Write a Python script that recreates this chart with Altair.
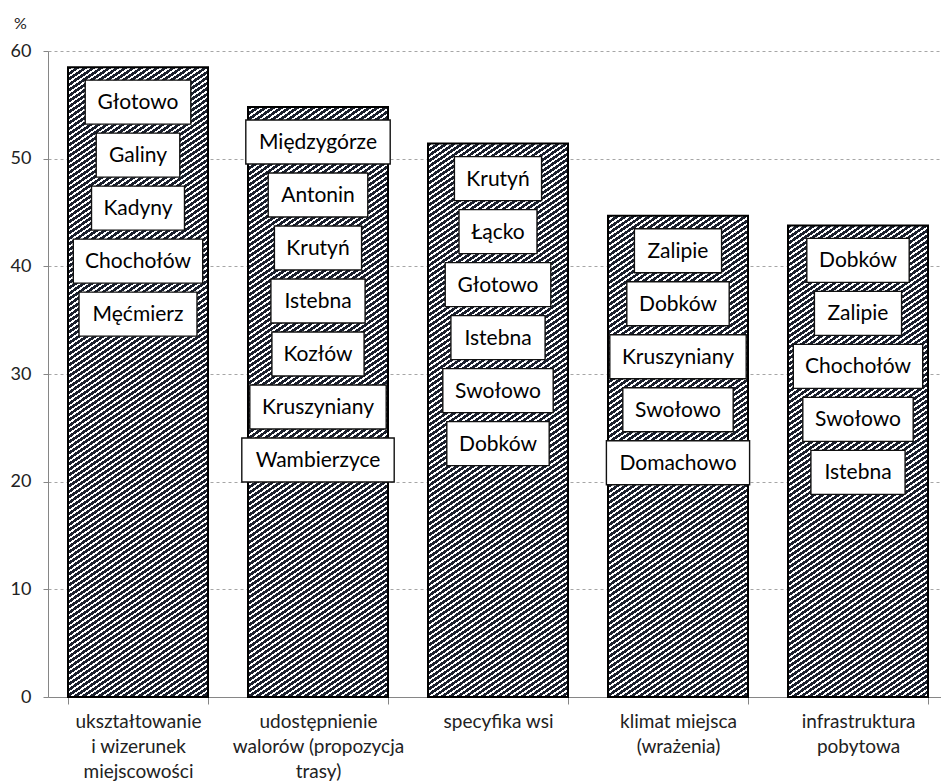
import altair as alt

# Categories (axis labels split on "|") and their shares in %
categories = [
    "ukształtowanie|i wizerunek|miejscowości",
    "udostępnienie|walorów (propozycja|trasy)",
    "specyfika wsi",
    "klimat miejsca|(wrażenia)",
    "infrastruktura|pobytowa",
]
shares = [58.5, 54.8, 51.4, 44.7, 43.8]

# Villages named inside each bar, top to bottom
places_1 = ["Głotowo", "Galiny", "Kadyny", "Chochołów", "Męćmierz"]
places_2 = ["Międzygórze", "Antonin", "Krutyń", "Istebna", "Kozłów", "Kruszyniany", "Wambierzyce"]
places_3 = ["Krutyń", "Łącko", "Głotowo", "Istebna", "Swołowo", "Dobków"]
places_4 = ["Zalipie", "Dobków", "Kruszyniany", "Swołowo", "Domachowo"]
places_5 = ["Dobków", "Zalipie", "Chochołów", "Swołowo", "Istebna"]
places = [places_1, places_2, places_3, places_4, places_5]

y_ticks = [0, 10, 20, 30, 40, 50, 60]

# ---- layout / style ----
PLOT_W, PLOT_H = 893, 646
STEP = 180
BAR_W = 140
Y_MAX = 60
PX_PER_UNIT = PLOT_H / Y_MAX
DARK = "#1b202d"
HATCH_PX = 8.0       # horizontal period of the hatch, px
HATCH_PY = 5.5       # vertical period of the hatch, px
HATCH_DARK = 0.6     # dark share of one period
BOX_H = 44
BOX_FONT = 23        # em size used to estimate label box widths
BOX_PAD = 25
FIRST_OFF = 35       # px from bar top to first label centre
LABEL_STEP = 53      # px between label centres

# approximate advance widths (em) for sizing the label boxes
CHAR_W = {
    "a": .479, "b": .525, "c": .423, "d": .525, "e": .498, "f": .305, "g": .471,
    "h": .525, "i": .229, "j": .239, "k": .455, "l": .229, "m": .799, "n": .525,
    "o": .527, "p": .525, "r": .349, "s": .391, "t": .335, "u": .525, "w": .715,
    "y": .453, "z": .395, "ę": .498, "ó": .527, "ń": .525, "ć": .423, "ż": .395,
    "ą": .479, "ł": .24,
    "A": .579, "C": .533, "D": .615, "G": .631, "I": .252, "K": .520, "M": .855,
    "S": .459, "W": .890, "Z": .517, "Ł": .420,
}


def hatch(height_px):
    """Diagonal '/' hatch as a linear gradient in bounding-box units."""
    w, h = BAR_W, height_px
    a, b = w / HATCH_PX, h / HATCH_PY        # stripe counts along each edge
    k = (a + b) / (a * a + b * b)
    period = 1.0 / (a + b)
    stops = []
    t = 0.0
    while t < 1.0:
        mid = min(t + period * HATCH_DARK, 1.0)
        end = min(t + period, 1.0)
        stops += [
            {"offset": round(t, 5), "color": DARK},
            {"offset": round(mid, 5), "color": DARK},
            {"offset": round(mid, 5), "color": "white"},
            {"offset": round(end, 5), "color": "white"},
        ]
        t += period
    return {"gradient": "linear", "x1": 0, "y1": 0,
            "x2": round(k * a, 6), "y2": round(k * b, 6), "stops": stops}


def box_path(text):
    width = sum(CHAR_W.get(c, 0.5) for c in text) * BOX_FONT + BOX_PAD
    hw, hh = width / 2, BOX_H / 2
    return f"M{-hw:.1f},{-hh}H{hw:.1f}V{hh}H{-hw:.1f}Z"


bar_rows = [
    {"kategoria": c, "udzial": v, "wzor": hatch(v * PX_PER_UNIT)}
    for c, v in zip(categories, shares)
]

label_rows = []
for c, v, names in zip(categories, shares, places):
    for i, name in enumerate(names):
        label_rows.append({
            "kategoria": c,
            "miejscowosc": name,
            "poz": v - (FIRST_OFF + LABEL_STEP * i) / PX_PER_UNIT,
            "ramka": box_path(name),
        })

AXIS_GREY = "#868686"
TEXT_COL = "#222222"
FONT = "Lato"

x_scale = alt.Scale(domain=categories, range=[0, STEP * 5],
                    paddingInner=(STEP - BAR_W) / STEP,
                    paddingOuter=(STEP - BAR_W) / 2 / STEP)
y_scale = alt.Scale(domain=[0, Y_MAX], nice=False)

x_axis = alt.Axis(
    title=None, labelAngle=0, tickBand="extent", tickSize=7,
    domainColor=AXIS_GREY, tickColor=AXIS_GREY, grid=False,
    labelFont=FONT, labelFontSize=19, labelColor=TEXT_COL,
    labelLineHeight=25, labelPadding=8, labelLimit=0,
    labelExpr="split(datum.label, '|')",
)
y_axis = alt.Axis(
    values=y_ticks, grid=True, gridDash=[3, 3], gridColor="#a6a6a6",
    domainColor=AXIS_GREY, tickColor=AXIS_GREY, tickSize=5,
    labelFont=FONT, labelFontSize=18, labelColor=TEXT_COL, labelPadding=12,
    title="%", titleAngle=0, titleX=-28, titleY=-28, titleAlign="center",
    titleBaseline="middle", titleFont=FONT, titleFontSize=16,
    titleFontWeight="normal", titleColor=TEXT_COL,
)


def xenc():
    return alt.X("kategoria:N", scale=x_scale, axis=x_axis, sort=categories)


bars = alt.Chart(alt.Data(values=bar_rows)).mark_bar(
    stroke="black", strokeWidth=2, opacity=1
).encode(
    x=xenc(),
    y=alt.Y("udzial:Q", scale=y_scale, axis=y_axis, stack=None),
    fill=alt.Fill("wzor:N", scale=None),
)

boxes = alt.Chart(alt.Data(values=label_rows)).mark_point(
    filled=True, fill="white", stroke="#111111", strokeWidth=1.4, opacity=1
).encode(
    x=xenc(),
    y=alt.Y("poz:Q", scale=y_scale, axis=y_axis),
    shape=alt.Shape("ramka:N", scale=None),
    size=alt.value(4),
)

texts = alt.Chart(alt.Data(values=label_rows)).mark_text(
    font=FONT, fontSize=21, color="black", baseline="middle", align="center", dy=1
).encode(
    x=xenc(),
    y=alt.Y("poz:Q", scale=y_scale, axis=y_axis),
    text="miejscowosc:N",
)

chart = alt.layer(bars, boxes, texts).properties(
    width=PLOT_W,
    height=PLOT_H,
    autosize=alt.AutoSizeParams(type="none"),
    padding={"left": 48, "top": 51, "right": 0, "bottom": 85},
    background="white",
).configure_view(stroke=None)

chart.save("out.html", embed_options={"renderer": "svg", "actions": False})
